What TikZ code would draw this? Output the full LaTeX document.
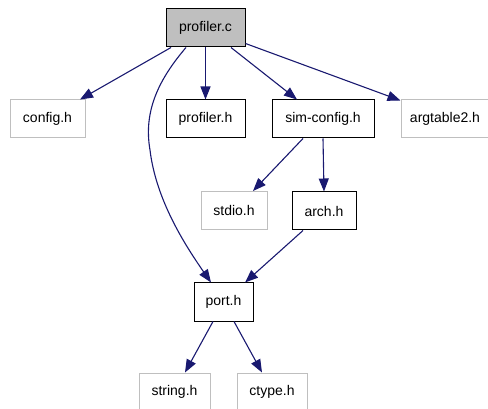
\documentclass[tikz,border=0pt]{standalone}
\usepackage{fontspec}
\setmainfont{Liberation Sans}
\usetikzlibrary{arrows.meta}
\definecolor{edgec}{HTML}{191970}
\definecolor{grayb}{HTML}{BFBFBF}
\tikzset{
  fbox/.style={draw=black, line width=1pt, minimum height=38pt, inner sep=0pt, font=\fontsize{14}{16}\selectfont},
  gbox/.style={fbox, draw=grayb},
  dep/.style={draw=edgec, line width=1.1pt, -{Triangle[length=13pt,width=10pt]}},
}
\begin{document}
\begin{tikzpicture}[x=1pt,y=-1pt]
\clip (0,0) rectangle (488,409);
\useasboundingbox (0,0) rectangle (488,409);
\node[fbox, fill=grayb, minimum width=79pt] (pc) at (205.5,28) {profiler.c};
\node[gbox, minimum width=75pt] (cfg) at (47.5,119) {config.h};
\node[fbox, minimum width=79pt] (ph) at (205.5,119) {profiler.h};
\node[fbox, minimum width=102pt] (sc) at (323,119) {sim-config.h};
\node[gbox, minimum width=88pt] (arg) at (445,119) {argtable2.h};
\node[gbox, minimum width=66pt] (stdio) at (234,210.5) {stdio.h};
\node[fbox, minimum width=64pt] (arch) at (324,211) {arch.h};
\node[fbox, minimum width=59pt] (port) at (223.5,302) {port.h};
\node[gbox, minimum width=71pt] (str) at (174.5,392) {string.h};
\node[gbox, minimum width=70pt] (ct) at (272,392) {ctype.h};

\draw[dep] ([xshift=-34.5pt]pc.south) -- ([xshift=32.5pt]cfg.north);
\draw[dep] (pc.south) -- (ph.north);
\draw[dep] ([xshift=25.5pt]pc.south) -- ([xshift=-26pt]sc.north);
\draw[dep] ([yshift=4pt]pc.south east) -- ([yshift=-1pt]arg.north west);
\draw[dep] ([xshift=-19.5pt]pc.south) .. controls (160,78) and (143,110) .. (150,150)
  .. controls (156,200) and (185,245) .. ([xshift=-12.5pt]port.north);
\draw[dep] ([xshift=-20pt]sc.south) -- ([xshift=19pt]stdio.north);
\draw[dep] (sc.south) -- (arch.north);
\draw[dep] ([xshift=-21pt]arch.south) -- ([xshift=21.5pt]port.north);
\draw[dep] ([xshift=-10.5pt]port.south) -- ([xshift=10.5pt]str.north);
\draw[dep] ([xshift=10.5pt]port.south) -- ([xshift=-10pt]ct.north);
\end{tikzpicture}
\end{document}
